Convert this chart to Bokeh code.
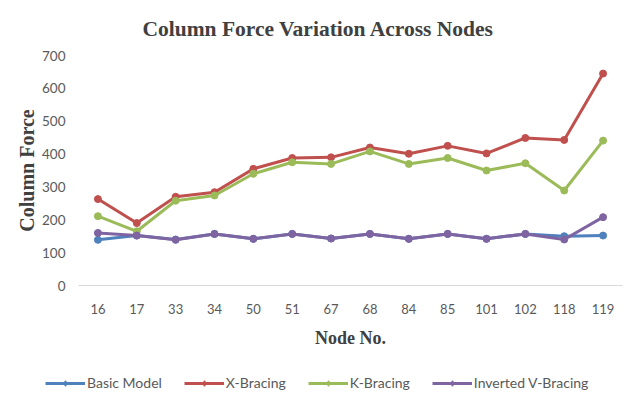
from bokeh.plotting import figure
from bokeh.layouts import column, row
from bokeh.models import FactorRange, Range1d, Legend, LegendItem, FixedTicker
from bokeh.embed import file_html
from bokeh.resources import INLINE

nodes = ["16", "17", "33", "34", "50", "51", "67", "68", "84", "85", "101", "102", "118", "119"]
basic_model = [139, 152, 140, 157, 142, 157, 143, 157, 142, 157, 142, 157, 150, 152]
x_bracing = [263, 190, 270, 284, 355, 388, 390, 420, 401, 425, 402, 449, 443, 645]
k_bracing = [211, 165, 258, 274, 340, 375, 370, 408, 370, 388, 350, 372, 289, 441]
inv_v_bracing = [160, 152, 139, 157, 142, 157, 143, 157, 142, 157, 142, 157, 140, 208]
y_ticks = [0, 100, 200, 300, 400, 500, 600, 700]

series = [
    ("Basic Model", basic_model, "#4F81BD"),
    ("X-Bracing", x_bracing, "#C0504D"),
    ("K-Bracing", k_bracing, "#9BBB59"),
    ("Inverted V-Bracing", inv_v_bracing, "#7F64A2"),
]

TICK_FONT = "Lato"
TICK_COLOR = "#595959"

p = figure(width=627, height=352, x_range=FactorRange(*nodes), y_range=Range1d(0, 700),
           output_backend="svg", toolbar_location=None,
           min_border_left=78, min_border_right=5, min_border_top=55, min_border_bottom=67)

p.title.text = "Column Force Variation Across Nodes"
p.title.align = "left"
p.title.offset = 64
p.title.standoff = 29
p.title.text_font = "Liberation Serif"
p.title.text_font_size = "21.5px"
p.title.text_font_style = "bold"
p.title.text_color = "#404040"

p.outline_line_color = None
p.xgrid.grid_line_color = None
p.ygrid.grid_line_color = None

p.xaxis.axis_line_color = "#D9D9D9"
p.xaxis.axis_line_width = 1
p.xaxis.major_tick_line_color = None
p.xaxis.minor_tick_line_color = None
p.xaxis.major_tick_out = 0
p.xaxis.major_tick_in = 0
p.xaxis.major_label_text_font = TICK_FONT
p.xaxis.major_label_text_font_size = "13px"
p.xaxis.major_label_text_color = TICK_COLOR
p.xaxis.major_label_standoff = 18
p.xaxis.axis_label = "Node No."
p.xaxis.axis_label_text_font = "Liberation Serif"
p.xaxis.axis_label_text_font_style = "bold"
p.xaxis.axis_label_text_font_size = "18px"
p.xaxis.axis_label_text_color = "#404040"
p.xaxis.axis_label_standoff = 11

p.yaxis.ticker = FixedTicker(ticks=y_ticks)
p.yaxis.axis_line_color = None
p.yaxis.major_tick_line_color = None
p.yaxis.minor_tick_line_color = None
p.yaxis.major_tick_out = 0
p.yaxis.major_tick_in = 0
p.yaxis.major_label_text_font = TICK_FONT
p.yaxis.major_label_text_font_size = "13.5px"
p.yaxis.major_label_text_color = TICK_COLOR
p.yaxis.major_label_standoff = 13
p.yaxis.axis_label = "Column Force"
p.yaxis.axis_label_text_font = "Liberation Serif"
p.yaxis.axis_label_text_font_style = "bold"
p.yaxis.axis_label_text_font_size = "20px"
p.yaxis.axis_label_text_color = "#404040"
p.yaxis.axis_label_standoff = 1

for name, vals, color in series:
    p.line(nodes, vals, line_color=color, line_width=3)
    p.scatter(nodes, vals, marker="circle", size=7, fill_color=color, line_color=color)

# legend strip below the chart
lg = figure(width=627, height=53, x_range=Range1d(0, 1), y_range=Range1d(0, 1),
            output_backend="svg", toolbar_location=None,
            x_axis_location=None, y_axis_location=None,
            min_border=0, min_border_left=0, min_border_right=0,
            min_border_top=0, min_border_bottom=0)
lg.outline_line_color = None
lg.xgrid.grid_line_color = None
lg.ygrid.grid_line_color = None

items = []
for name, vals, color in series:
    l = lg.line([-5, -4], [-5, -4], line_color=color, line_width=3)
    s = lg.scatter([-5], [-5], marker="diamond", size=9, fill_color=color, line_color=color)
    items.append(LegendItem(label=name, renderers=[l, s]))

legend = Legend(items=items, orientation="horizontal", location=(45, 14),
                border_line_color=None, background_fill_alpha=0,
                label_text_font=TICK_FONT, label_text_font_size="14px",
                label_text_color=TICK_COLOR, glyph_width=40, glyph_height=14,
                spacing=22, label_standoff=2, margin=0, padding=0)
lg.add_layout(legend)

layout = column(p, row(lg), spacing=0)
open("out.html", "w").write(file_html(layout, INLINE))
